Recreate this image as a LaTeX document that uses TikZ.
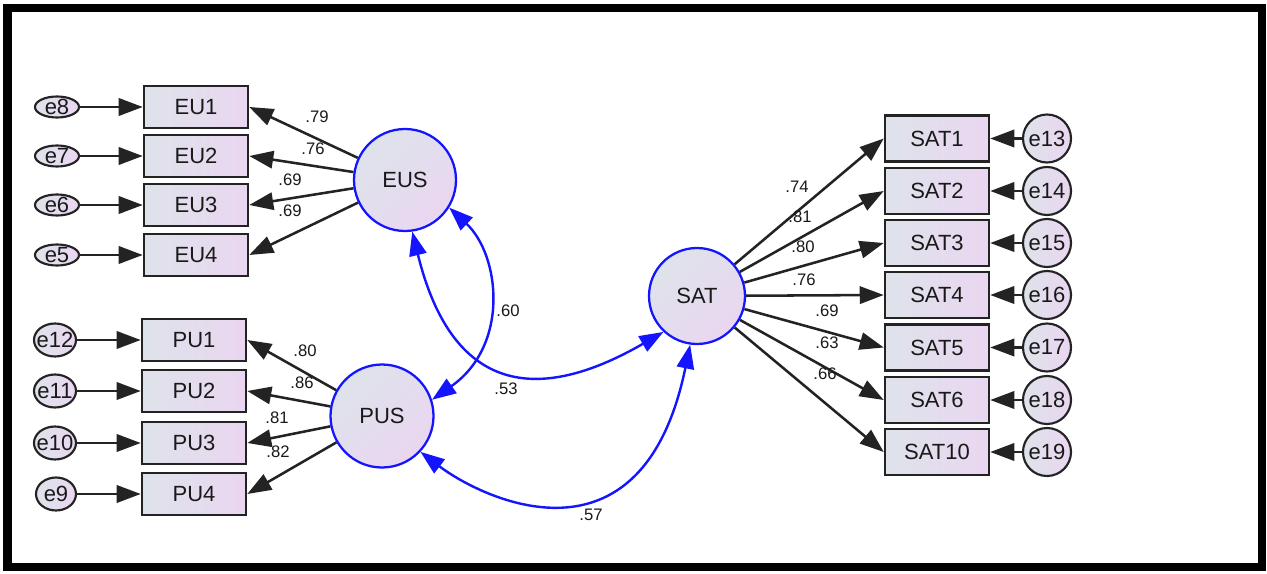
\documentclass[tikz,border=0pt]{standalone}
\usepackage{fontspec}
\setmainfont{Liberation Sans}
\usetikzlibrary{arrows.meta,shapes.geometric}
\newdimen\pxu \pxu=0.75pt
\definecolor{gA}{RGB}{222,227,234}
\definecolor{gB}{RGB}{234,214,241}
\definecolor{bord}{RGB}{35,35,35}
\definecolor{amosblue}{RGB}{20,20,255}
\definecolor{txt}{RGB}{25,25,25}
\begin{document}
\begin{tikzpicture}[x=0.75pt,y=-0.75pt,
  mainfont/.style={font=\fontsize{16.5}{19}\selectfont, text=txt},
  obs/.style={rectangle, draw=bord, line width=1.9pt, left color=gA, right color=gB,
    minimum width=104\pxu, minimum height=42\pxu, inner sep=0pt, mainfont},
  obsS/.style={obs, minimum height=46\pxu},
  lat/.style={circle, draw=amosblue, line width=1.7pt, left color=gA, right color=gB,
    shading angle=45, inner sep=0pt, mainfont},
  errE/.style={ellipse, draw=bord, line width=1.6pt, left color=gA, right color=gB,
    inner sep=0pt, minimum width=44\pxu, minimum height=21\pxu},
  errW/.style={errE, minimum width=42\pxu, minimum height=33\pxu},
  errC/.style={circle, draw=bord, line width=1.6pt, left color=gA, right color=gB,
    inner sep=0pt, minimum size=48\pxu},
  etxt/.style={mainfont, inner sep=0pt},
  load/.style={-{Triangle[length=18pt,width=13pt]}, line width=1.9pt, color=bord},
  cov/.style={{Triangle[length=18pt,width=13pt]}-{Triangle[length=18pt,width=13pt]}, line width=1.8pt, color=amosblue},
  coef/.style={font=\fontsize{12.5}{14}\selectfont, inner sep=0pt, text=txt}
]
\useasboundingbox (0,0) rectangle (1267,574);
\fill[white] (0,0) rectangle (1267,574);
\draw[line width=6.5pt, black] (7.5,8) rectangle (1262,567);

% latent variables
\node[lat, minimum size=102\pxu] (EUS) at (405,180) {EUS};
\node[lat, minimum size=103\pxu] (PUS) at (382,416) {PUS};
\node[lat, minimum size=96\pxu] (SAT) at (697,296) {SAT};

% EU block
\node[obs] (EU1) at (196,107) {EU1};
\node[obs] (EU2) at (196,156) {EU2};
\node[obs] (EU3) at (196,205) {EU3};
\node[obs] (EU4) at (196,255) {EU4};
\node[errE, label={[etxt]center:e8}] (e8) at (57,107) {};
\node[errE, label={[etxt]center:e7}] (e7) at (57,156) {};
\node[errE, label={[etxt]center:e6}] (e6) at (57,205) {};
\node[errE, label={[etxt]center:e5}] (e5) at (57,255) {};

% PU block
\node[obs] (PU1) at (194,340) {PU1};
\node[obs] (PU2) at (194,391) {PU2};
\node[obs] (PU3) at (194,443) {PU3};
\node[obs] (PU4) at (194,494) {PU4};
\node[errW, label={[etxt]center:e12}] (e12) at (55,340) {};
\node[errW, label={[etxt]center:e11}] (e11) at (55,391) {};
\node[errW, label={[etxt]center:e10}] (e10) at (55,443) {};
\node[errW, minimum width=40\pxu, label={[etxt]center:e9}] (e9) at (56,494) {};

% SAT block
\node[obsS] (SAT1) at (937,138.5) {SAT1};
\node[obsS] (SAT2) at (937,191) {SAT2};
\node[obsS] (SAT3) at (937,243) {SAT3};
\node[obsS] (SAT4) at (937,295) {SAT4};
\node[obsS] (SAT5) at (937,347.5) {SAT5};
\node[obsS] (SAT6) at (937,400) {SAT6};
\node[obsS] (SAT10) at (937,452) {SAT10};
\node[errC, label={[etxt]center:e13}] (e13) at (1047,138.5) {};
\node[errC, label={[etxt]center:e14}] (e14) at (1047,191) {};
\node[errC, label={[etxt]center:e15}] (e15) at (1047,243) {};
\node[errC, label={[etxt]center:e16}] (e16) at (1047,295) {};
\node[errC, label={[etxt]center:e17}] (e17) at (1047,347.5) {};
\node[errC, label={[etxt]center:e18}] (e18) at (1047,400) {};
\node[errC, label={[etxt]center:e19}] (e19) at (1047,452) {};

% error arrows
\foreach \e/\b in {e8/EU1,e7/EU2,e6/EU3,e5/EU4,e12/PU1,e11/PU2,e10/PU3,e9/PU4}
  \draw[load] (\e.east) -- (\b.west);
\foreach \e/\b in {e13/SAT1,e14/SAT2,e15/SAT3,e16/SAT4,e17/SAT5,e18/SAT6,e19/SAT10}
  \draw[load] (\e.west) -- (\b.east);

% loadings
\foreach \b in {EU1,EU2,EU3,EU4} \draw[load] (EUS) -- (\b.east);
\foreach \b in {PU1,PU2,PU3,PU4} \draw[load] (PUS) -- (\b.east);
\foreach \b in {SAT1,SAT2,SAT3,SAT4,SAT5,SAT6,SAT10} \draw[load] (SAT) -- (\b.west);

% covariances
\draw[cov] (EUS.-32) .. controls (500,255) and (510,345) .. (PUS.18);
\draw[cov] (EUS.-82) .. controls (452,393) and (537,405) .. (SAT.-133);
\draw[cov] (PUS.-43) .. controls (481,498) and (642,578) .. (SAT.-98);

% coefficients
\node[coef] (c1) at (317,117) {.79};
\node[coef] (c2) at (313,149) {.76};
\node[coef] (c3) at (290,180) {.69};
\node[coef] (c4) at (290,211) {.69};
\node[coef] (c5) at (305,351) {.80};
\node[coef] (c6) at (302,383) {.86};
\node[coef] (c7) at (277,418) {.81};
\node[coef] (c8) at (278,452) {.82};
\node[coef] (c9) at (797,187) {.74};
\node[coef] (c10) at (800,217) {.81};
\node[coef] (c11) at (803,247) {.80};
\node[coef] (c12) at (804,280) {.76};
\node[coef] (c13) at (827,311) {.69};
\node[coef] (c14) at (827,343) {.63};
\node[coef] (c15) at (825,374) {.66};
\node[coef] (c16) at (508,311) {.60};
\node[coef] (c17) at (506,389) {.53};
\node[coef] (c18) at (591,515) {.57};
\end{tikzpicture}
\end{document}
